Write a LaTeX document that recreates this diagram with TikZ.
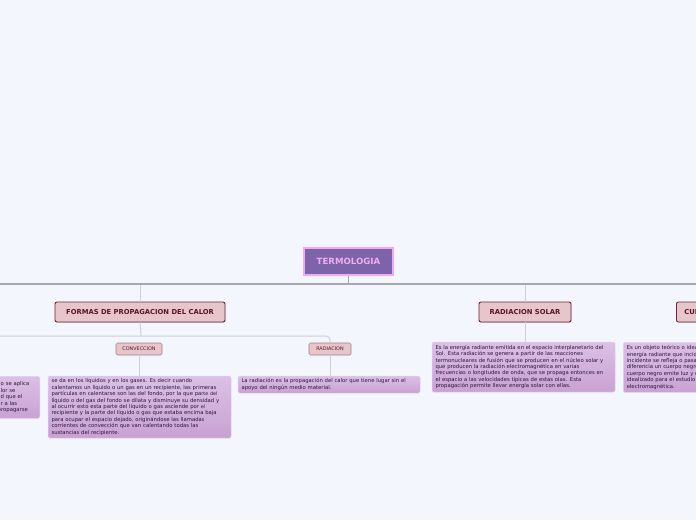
\documentclass[tikz,border=0pt]{standalone}
\usepackage{fontspec}
\setmainfont{DejaVu Sans}
\usetikzlibrary{shadows}
\definecolor{bg}{HTML}{F3F6FD}
\definecolor{mainline}{HTML}{A8A8AC}
\definecolor{subline}{HTML}{CDD1DA}
\definecolor{rootfill}{HTML}{7D63AA}
\definecolor{rootdraw}{HTML}{F2A8F2}
\definecolor{roottext}{HTML}{F0AEF0}
\definecolor{topfill}{HTML}{E7C6CB}
\definecolor{topdraw}{HTML}{6E2438}
\definecolor{toptext}{HTML}{5A1426}
\definecolor{txttop}{HTML}{DCC0E5}
\definecolor{txtbot}{HTML}{C8A2D2}
\definecolor{txtdraw}{HTML}{E2D0EA}
\definecolor{txttext}{HTML}{2E1440}
\tikzset{
  rootbox/.style={draw=rootdraw, line width=1.2pt, fill=rootfill, text=roottext,
    font=\fontsize{8.6}{9}\selectfont\bfseries, minimum width=89pt, minimum height=27pt, inner sep=0pt},
  topbox/.style={draw=topdraw, line width=0.9pt, fill=topfill, text=toptext, rounded corners=2pt,
    font=\fontsize{6.8}{7.5}\selectfont\bfseries, minimum height=20pt, inner sep=0pt,
    drop shadow={shadow xshift=0.6pt, shadow yshift=-0.8pt, opacity=0.3}},
  smallbox/.style={draw=topdraw!60, line width=0.6pt, fill=topfill, text=toptext, rounded corners=1.5pt,
    font=\fontsize{4.9}{5.5}\selectfont, minimum height=12pt, inner sep=0pt},
  txtbox/.style={draw=txtdraw, line width=0.5pt, top color=txttop, bottom color=txtbot, text=txttext,
    rounded corners=1.5pt, font=\fontsize{5.3}{6.4}\selectfont, align=left, inner xsep=3.5pt, inner ysep=1.5pt},
  mline/.style={draw=mainline, line width=1.5pt},
  sline/.style={draw=subline, line width=1pt, rounded corners=4pt},
}
\begin{document}
\begin{tikzpicture}[x=1pt,y=-1pt]
\useasboundingbox (0,0) rectangle (696,520);
\clip (0,0) rectangle (696,520);
\fill[bg] (0,0) rectangle (696,520);

% nodes
\node[rootbox] (root) at (348.5,261.5) {TERMOLOGIA};
\node[topbox, minimum width=170pt] (formas) at (140,312) {FORMAS DE PROPAGACION DEL CALO\raisebox{-0.6pt}{R}};
\node[topbox, minimum width=92pt] (rsolar) at (525,312) {RADIACION SOLAR};
\node[topbox, minimum width=100pt, anchor=west, align=left, text width=92pt, inner xsep=8pt] (cuerpo) at (676,312) {CUERPO NEGRO};

\node[smallbox, minimum width=46pt] (conv) at (139,349) {CONVECCION};
\node[smallbox, minimum width=42pt] (rad) at (330,349) {RADIACION};

\coordinate (cj) at (140,284);
\coordinate (rj) at (525,284);
\coordinate (lend) at (-5,284);
\coordinate (rend) at (701,284);
\coordinate (sj) at (141,336);
\coordinate (slend) at (-5,336);

% connectors
\draw[sline] (formas.south) -- (sj);
\draw[sline] (slend) -- (330,336) -- (rad.north);
\draw[sline] (conv.south) -- (139,376);
\draw[sline] (rad.south) -- (330,376);
\draw[sline] (rsolar.south) -- (525,342);
\draw[sline] (cj) -- (formas.north);
\draw[sline] (rj) -- (rsolar.north);
\draw[mline] (root.south) -- (348.5,284);
\draw[mline] (lend) -- (rend);

% text boxes
\node[txtbox, text width=176pt, minimum height=62pt] (convtxt) at (139.5,407) {se da en los líquidos y en los gases. Es decir cuando\\
calentamos un líquido o un gas en un recipiente, las primeras\\
partículas en calentarse son las del fondo, por la que pa{\fontsize{4.8}{5}\selectfont rte del}\\
líquido o del gas del fondo se dilata y disminuye su densidad y\\
al ocurrir esto esta parte del líquido o gas asciende por {\fontsize{4.8}{5}\selectfont el}\\
recipiente y la parte  del líquido o gas que estaba encima baja\\
para ocupar el espacio dejado, originándose las llamada{\fontsize{4.8}{5}\selectfont s}\\
corrientes de convección que van calentando todas las\\
sustancias del recipiente.};

\node[txtbox, text width=175pt, minimum height=17pt] (radtxt) at (329,384.5) {La radiación es la propagación del calor que tiene lugar sin el\\
apoyo del ningún medio material.};

\node[txtbox, text width=176pt, minimum height=50pt] (rstxt) at (523.5,367) {Es la energía radiante emitida en el espacio interplanetario del\\
Sol. Esta radiación se genera a partir de las reacciones\\
termonucleares de fusión que se producen en el núcleo solar y\\
que producen la radiación electromagnética en varias\\
frecuencias o longitudes de onda, que se propaga entonces en\\
el espacio a las velocidades típicas de estas olas. Esta\\
propagación permite llevar energía solar con ellas.};

\node[txtbox, text width=176pt, minimum height=50pt, anchor=north west] (cntxt) at (623,342) {Es un objeto teórico o ideal que absorbe toda la luz y toda la\\
energía radiante que incide sobre él. Nada de la radiación\\
incidente se refleja o pasa a través del cuerpo negro. A\\
diferencia un cuerpo negro de otros cuerpos, el\\
cuerpo negro emite luz y constituye un sistema\\
idealizado para el estudio de la radiación\\
electromagnética.};

\node[txtbox, text width=60pt, minimum height=42pt, anchor=north east, inner xsep=0pt] (condtxt) at (40,376) {\hspace*{21pt}o se aplica\\
\hspace*{21pt}lor se\\
\hspace*{21pt}d que el\\
\hspace*{21pt}r a las\\
\hspace*{18pt}propagarse};

\end{tikzpicture}
\end{document}
